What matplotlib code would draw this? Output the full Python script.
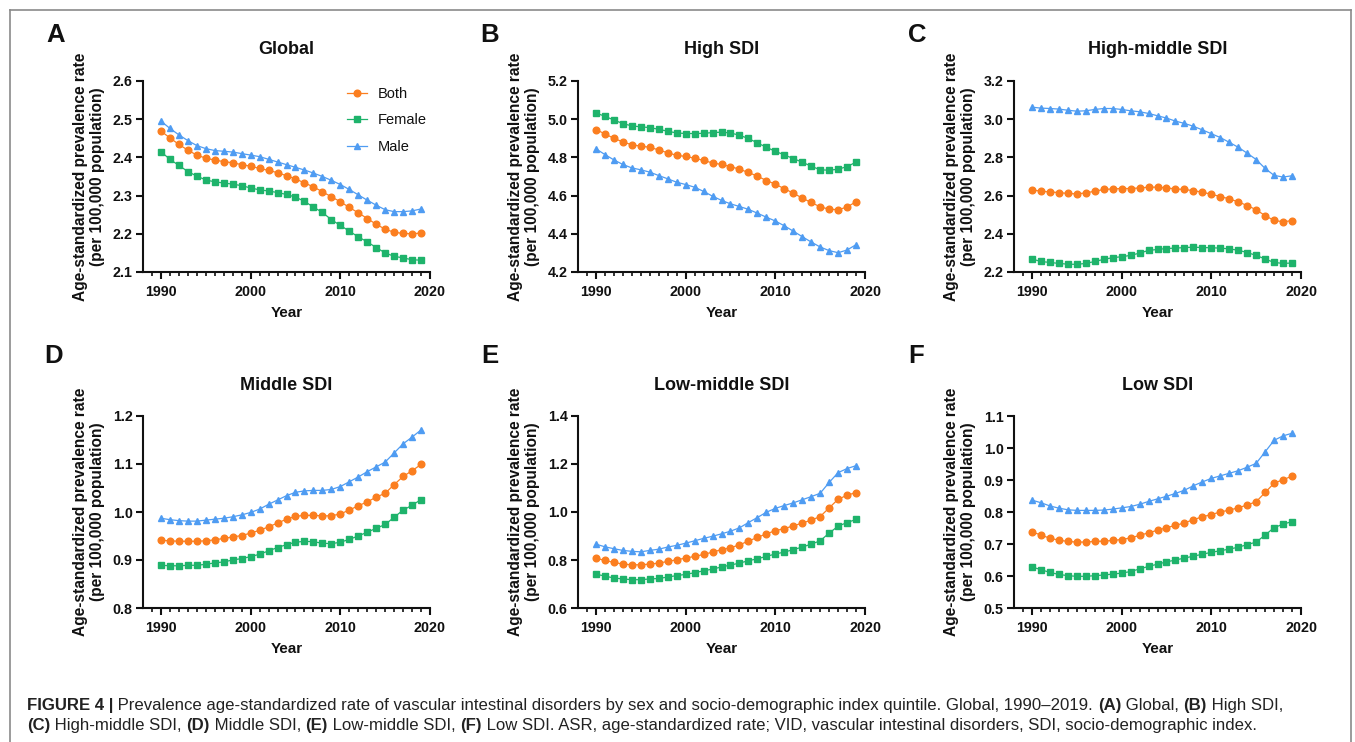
import matplotlib
matplotlib.use("Agg")
import matplotlib.pyplot as plt
from matplotlib.ticker import MultipleLocator, FixedLocator, FormatStrFormatter
from matplotlib.lines import Line2D

plt.rcParams['font.family'] = ['Liberation Sans', 'DejaVu Sans']

years = list(range(1990, 2020))

# ---------------- data ----------------
global_both = [2.469, 2.451, 2.434, 2.419, 2.406, 2.398, 2.393, 2.389, 2.386, 2.381,
               2.377, 2.371, 2.366, 2.360, 2.352, 2.344, 2.333, 2.323, 2.310, 2.297,
               2.284, 2.269, 2.255, 2.240, 2.225, 2.212, 2.204, 2.201, 2.200, 2.202]
global_female = [2.415, 2.395, 2.379, 2.363, 2.351, 2.341, 2.336, 2.333, 2.330, 2.326,
                 2.320, 2.315, 2.312, 2.308, 2.303, 2.296, 2.285, 2.270, 2.256, 2.237,
                 2.222, 2.207, 2.192, 2.179, 2.164, 2.150, 2.141, 2.137, 2.132, 2.131]
global_male = [2.495, 2.476, 2.459, 2.444, 2.431, 2.423, 2.418, 2.416, 2.414, 2.410,
               2.406, 2.402, 2.395, 2.388, 2.381, 2.374, 2.367, 2.359, 2.350, 2.340,
               2.329, 2.316, 2.302, 2.288, 2.275, 2.263, 2.258, 2.258, 2.260, 2.265]

high_both = [4.946, 4.923, 4.900, 4.881, 4.866, 4.859, 4.853, 4.839, 4.824, 4.811,
             4.805, 4.796, 4.784, 4.771, 4.763, 4.752, 4.738, 4.721, 4.702, 4.679,
             4.660, 4.636, 4.613, 4.587, 4.564, 4.541, 4.529, 4.526, 4.540, 4.568]
high_female = [5.033, 5.015, 4.996, 4.977, 4.965, 4.960, 4.956, 4.947, 4.937, 4.928,
               4.925, 4.925, 4.926, 4.930, 4.932, 4.928, 4.916, 4.899, 4.876, 4.853,
               4.832, 4.813, 4.794, 4.775, 4.754, 4.735, 4.733, 4.738, 4.752, 4.775]
high_male = [4.845, 4.815, 4.787, 4.763, 4.745, 4.735, 4.723, 4.705, 4.688, 4.670,
             4.658, 4.644, 4.622, 4.597, 4.575, 4.557, 4.543, 4.528, 4.508, 4.487,
             4.467, 4.442, 4.414, 4.385, 4.357, 4.331, 4.312, 4.301, 4.315, 4.343]

highmid_both = [2.630, 2.623, 2.619, 2.616, 2.611, 2.609, 2.614, 2.623, 2.632, 2.635,
                2.637, 2.637, 2.640, 2.644, 2.644, 2.640, 2.635, 2.632, 2.626, 2.618,
                2.607, 2.595, 2.583, 2.567, 2.548, 2.526, 2.495, 2.470, 2.463, 2.469]
highmid_female = [2.268, 2.255, 2.250, 2.245, 2.241, 2.240, 2.245, 2.255, 2.266, 2.275,
                  2.280, 2.287, 2.299, 2.313, 2.318, 2.323, 2.325, 2.328, 2.330, 2.328,
                  2.327, 2.325, 2.321, 2.314, 2.302, 2.287, 2.268, 2.250, 2.245, 2.247]
highmid_male = [3.063, 3.058, 3.056, 3.053, 3.047, 3.042, 3.044, 3.051, 3.056, 3.056,
                3.051, 3.044, 3.039, 3.030, 3.018, 3.006, 2.990, 2.978, 2.963, 2.944,
                2.924, 2.904, 2.879, 2.853, 2.822, 2.789, 2.742, 2.706, 2.697, 2.704]

mid_both = [0.941, 0.940, 0.939, 0.939, 0.939, 0.940, 0.942, 0.945, 0.948, 0.951,
            0.956, 0.962, 0.969, 0.977, 0.985, 0.991, 0.993, 0.993, 0.992, 0.992,
            0.996, 1.004, 1.013, 1.021, 1.031, 1.039, 1.057, 1.074, 1.086, 1.099]
mid_female = [0.889, 0.888, 0.888, 0.889, 0.889, 0.891, 0.894, 0.896, 0.900, 0.903,
              0.907, 0.912, 0.919, 0.926, 0.932, 0.937, 0.939, 0.938, 0.935, 0.934,
              0.937, 0.943, 0.950, 0.958, 0.966, 0.974, 0.989, 1.004, 1.014, 1.026]
mid_male = [0.987, 0.984, 0.982, 0.981, 0.981, 0.983, 0.985, 0.987, 0.990, 0.994,
            0.999, 1.006, 1.016, 1.025, 1.034, 1.041, 1.044, 1.045, 1.045, 1.047,
            1.053, 1.063, 1.073, 1.084, 1.094, 1.104, 1.123, 1.142, 1.156, 1.171]

lowmid_both = [0.808, 0.798, 0.790, 0.783, 0.780, 0.780, 0.783, 0.787, 0.794, 0.801,
               0.808, 0.815, 0.823, 0.833, 0.843, 0.851, 0.863, 0.879, 0.894, 0.909,
               0.922, 0.931, 0.942, 0.954, 0.966, 0.981, 1.017, 1.053, 1.070, 1.081]
lowmid_female = [0.741, 0.733, 0.725, 0.721, 0.718, 0.718, 0.721, 0.723, 0.729, 0.735,
                 0.740, 0.747, 0.755, 0.762, 0.771, 0.779, 0.787, 0.797, 0.805, 0.815,
                 0.825, 0.833, 0.843, 0.854, 0.866, 0.880, 0.912, 0.941, 0.956, 0.969]
lowmid_male = [0.866, 0.855, 0.847, 0.840, 0.836, 0.834, 0.840, 0.845, 0.854, 0.861,
               0.870, 0.880, 0.890, 0.899, 0.909, 0.920, 0.934, 0.956, 0.977, 0.999,
               1.015, 1.027, 1.038, 1.051, 1.064, 1.078, 1.123, 1.164, 1.181, 1.193]

low_both = [0.738, 0.728, 0.718, 0.712, 0.708, 0.706, 0.706, 0.708, 0.709, 0.711,
            0.714, 0.719, 0.727, 0.735, 0.743, 0.751, 0.758, 0.766, 0.776, 0.785,
            0.792, 0.800, 0.806, 0.813, 0.822, 0.832, 0.861, 0.890, 0.901, 0.912]
low_female = [0.628, 0.620, 0.611, 0.605, 0.601, 0.599, 0.599, 0.601, 0.603, 0.606,
              0.609, 0.614, 0.622, 0.630, 0.637, 0.644, 0.650, 0.656, 0.662, 0.668,
              0.674, 0.679, 0.684, 0.690, 0.698, 0.706, 0.728, 0.751, 0.762, 0.770]
low_male = [0.837, 0.829, 0.819, 0.812, 0.807, 0.805, 0.805, 0.805, 0.806, 0.809,
            0.813, 0.817, 0.824, 0.833, 0.841, 0.849, 0.858, 0.868, 0.882, 0.894,
            0.905, 0.913, 0.921, 0.929, 0.940, 0.952, 0.988, 1.024, 1.038, 1.046]

panel_letters = ["A", "B", "C", "D", "E", "F"]
panel_titles = ["Global", "High SDI", "High-middle SDI", "Middle SDI", "Low-middle SDI", "Low SDI"]
panel_both = [global_both, high_both, highmid_both, mid_both, lowmid_both, low_both]
panel_female = [global_female, high_female, highmid_female, mid_female, lowmid_female, low_female]
panel_male = [global_male, high_male, highmid_male, mid_male, lowmid_male, low_male]
panel_ylim = [(2.1, 2.6), (4.2, 5.2), (2.2, 3.2), (0.8, 1.2), (0.6, 1.4), (0.5, 1.1)]
panel_ystep = [0.1, 0.2, 0.2, 0.1, 0.2, 0.1]
series_labels = ["Both", "Female", "Male"]
x_major = [1990, 2000, 2010, 2020]
ylabel_text = "Age-standardized prevalence rate\n(per 100,000 population)"
xlabel_text = "Year"

caption_line1 = [("FIGURE 4 |", True),
                 (" Prevalence age-standardized rate of vascular intestinal disorders by sex and "
                  "socio-demographic index quintile. Global, 1990\u20132019. ", False),
                 ("(A)", True), (" Global, ", False), ("(B)", True), (" High SDI,", False)]
caption_line2 = [("(C)", True), (" High-middle SDI, ", False), ("(D)", True), (" Middle SDI, ", False),
                 ("(E)", True), (" Low-middle SDI, ", False), ("(F)", True),
                 (" Low SDI. ASR, age-standardized rate; VID, vascular intestinal disorders, SDI, "
                  "socio-demographic index.", False)]

# ---------------- styling ----------------
C_BOTH = '#FB7E1F'
C_FEMALE = '#1EB36B'
C_MALE = '#4F9CF2'
TXT = '#111111'

W, H = 1355, 742
fig = plt.figure(figsize=(W / 100, H / 100), dpi=100)

# frame (gray border)
fig.add_artist(Line2D([9.5 / W, 1350.5 / W], [1 - 9.5 / H, 1 - 9.5 / H], color='#8a8a8a', lw=1.2))
fig.add_artist(Line2D([9.5 / W, 9.5 / W], [0, 1 - 9.5 / H], color='#8a8a8a', lw=1.2))
fig.add_artist(Line2D([1350.5 / W, 1350.5 / W], [0, 1 - 9.5 / H], color='#8a8a8a', lw=1.2))

# axes geometry in pixels: (left spine x, width, top y, bottom y)
lefts = [143, 578, 1014]
ax_w = 287
rows = [(81, 272), (416, 608)]
letter_pos = [(56, 35), (490, 35), (917, 35), (54, 356), (490, 356), (916, 356)]

for i in range(6):
    r, c = divmod(i, 3)
    lx = lefts[c]
    top, bot = rows[r]
    ax = fig.add_axes([lx / W, 1 - bot / H, ax_w / W, (bot - top) / H])
    ax.plot(years, panel_both[i], color=C_BOTH, lw=0.9, marker='o', ms=4.8, mec=C_BOTH,
            label=series_labels[0], clip_on=False, zorder=3)
    ax.plot(years, panel_female[i], color=C_FEMALE, lw=0.9, marker='s', ms=4.4, mec=C_FEMALE,
            label=series_labels[1], clip_on=False, zorder=3)
    ax.plot(years, panel_male[i], color=C_MALE, lw=0.9, marker='^', ms=5.0, mec=C_MALE,
            label=series_labels[2], clip_on=False, zorder=3)
    ax.set_xlim(1988, 2020)
    ax.set_ylim(*panel_ylim[i])
    ax.xaxis.set_major_locator(FixedLocator(x_major))
    ax.xaxis.set_minor_locator(FixedLocator([y for y in range(1989, 2020) if y not in x_major]))
    ax.yaxis.set_major_locator(MultipleLocator(panel_ystep[i]))
    ax.yaxis.set_major_formatter(FormatStrFormatter('%.1f'))
    for s in ['top', 'right']:
        ax.spines[s].set_visible(False)
    for s in ['left', 'bottom']:
        ax.spines[s].set_linewidth(1.5)
        ax.spines[s].set_color(TXT)
    ax.tick_params(axis='both', which='major', direction='out', length=5, width=1.5,
                   color=TXT, labelsize=10.3, pad=2.5, labelcolor=TXT)
    ax.tick_params(axis='x', which='minor', direction='out', length=3, width=1.2, color=TXT)
    ax.tick_params(axis='x', which='major', pad=4.5)
    for lab in ax.get_xticklabels() + ax.get_yticklabels():
        lab.set_fontweight('bold')
    ax.patch.set_alpha(0)

    # labels
    ycen = (top + bot) / 2
    fig.text((lx - 54) / W, 1 - ycen / H, ylabel_text, rotation=90, ha='center', va='center',
             multialignment='center', fontsize=11.2, fontweight='bold', color=TXT, linespacing=1.2)
    fig.text((lx + ax_w / 2) / W, 1 - (bot + 41) / H, xlabel_text, ha='center', va='center',
             fontsize=11, fontweight='bold', color=TXT)
    fig.text((lx + ax_w / 2) / W, 1 - (top - 31) / H, panel_titles[i], ha='center', va='center',
             fontsize=13, fontweight='bold', color=TXT)
    px, py = letter_pos[i]
    fig.text(px / W, 1 - py / H, panel_letters[i], ha='center', va='center',
             fontsize=18.5, fontweight='bold', color=TXT)

    if i == 0:
        leg = ax.legend(loc='upper left', bbox_to_anchor=((347 - lx) / ax_w, (bot - 87) / (bot - top)),
                        frameon=False, fontsize=10.5, handlelength=1.35, handletextpad=0.75,
                        labelspacing=0.85, borderpad=0, borderaxespad=0)
        for t in leg.get_texts():
            t.set_color(TXT)

# ---------------- caption with mixed bold runs ----------------
renderer = fig.canvas.get_renderer()


def run_width(s, bold, fs):
    t1 = fig.text(0, 0, "|" + s + "|", fontsize=fs, fontweight='bold' if bold else 'normal')
    t2 = fig.text(0, 0, "||", fontsize=fs, fontweight='bold' if bold else 'normal')
    w = t1.get_window_extent(renderer).width - t2.get_window_extent(renderer).width
    t1.remove()
    t2.remove()
    return w


fs0 = 10.0
total0 = sum(run_width(s, b, fs0) for s, b in caption_line1)
target = 1278 - 27
fs = fs0 * target / total0


def draw_line(runs, x0, ycen):
    x = x0
    for s, b in runs:
        fig.text(x / W, 1 - ycen / H, s, fontsize=fs, fontweight='bold' if b else 'normal',
                 ha='left', va='center_baseline', color='#222222')
        x += run_width(s, b, fs)


draw_line(caption_line1, 27, 704)
draw_line(caption_line2, 27, 724)

fig.savefig("out.png", dpi=100)
